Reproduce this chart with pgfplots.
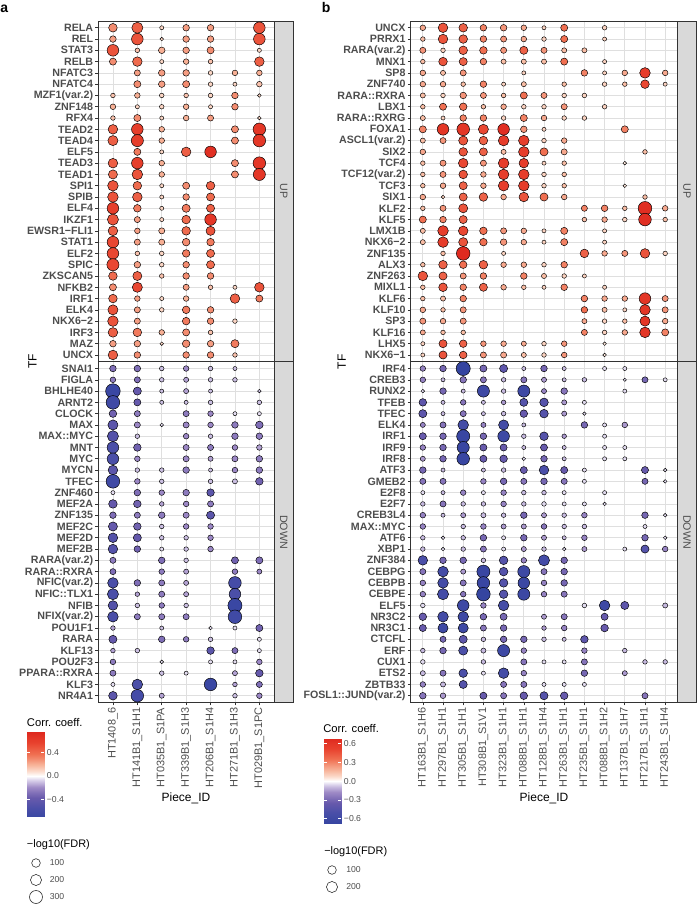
\documentclass[border=0pt]{standalone}
\usepackage{fontspec}
\setmainfont{Liberation Sans}
\usepackage{pgfplots}
\usepackage{pgfplotstable}
\pgfplotsset{compat=1.18}
\definecolor{labgray}{HTML}{4D4D4D}
\definecolor{dark}{HTML}{333333}
\pgfplotsset{colormap={corr}{rgb255(0cm)=(52,68,160); rgb255(2.5cm)=(72,78,168); rgb255(5cm)=(104,90,172); rgb255(7.5cm)=(158,138,198); rgb255(9cm)=(214,204,232); rgb255(10cm)=(255,255,255); rgb255(11cm)=(252,222,208); rgb255(12.5cm)=(247,178,152); rgb255(15cm)=(240,112,82); rgb255(17.5cm)=(232,66,46); rgb255(20cm)=(222,40,30)}}
\pgfplotsset{dotstyle/.style={only marks, scatter, mark=*, point meta=explicit, unbounded coords=discard, filter discard warning=false,
  scatter/use mapped color={draw=black, fill=mapped color}, mark options={line width=0.35pt}},
  panelstyle/.style={scale only axis, anchor=south west, height=511.125pt,
  ymin=0.4, ymax=60.8, y dir=reverse,
  ytick={1,2,3,4,5,6,7,8,9,10,11,12,13,14,15,16,17,18,19,20,21,22,23,24,25,26,27,28,29,30,31.2,32.2,33.2,34.2,35.2,36.2,37.2,38.2,39.2,40.2,41.2,42.2,43.2,44.2,45.2,46.2,47.2,48.2,49.2,50.2,51.2,52.2,53.2,54.2,55.2,56.2,57.2,58.2,59.2,60.2},
  tick pos=left, tick align=outside, major tick length=2.2pt,
  tick style={draw=dark, line width=0.45pt},
  grid=major, major grid style={draw=gray!25, line width=0.55pt},
  axis line style={draw=dark, line width=0.45pt},
  xticklabel style={rotate=90, anchor=east, font=\fontsize{8.2}{9}\selectfont, text=labgray, inner sep=1.5pt},
  yticklabel style={font=\bfseries\fontsize{8}{9}\selectfont, text=labgray, inner sep=1.5pt},
  colormap name=corr}}

\pgfplotstableread{
y c1 s1 c2 s2 c3 s3 c4 s4 c5 s5 c6 s6 c7 s7
1 0.30 100 0.45 201 0.10 6 0.25 44 0.25 44 nan nan 0.50 225
2 0.25 44 0.50 225 0.10 3 0.25 44 0.25 44 nan nan 0.50 225
3 0.50 225 0.15 11 0.20 44 0.25 44 0.30 56 nan nan 0.10 6
4 0.30 56 0.40 136 0.10 6 0.20 25 0.15 11 nan nan 0.45 136
5 nan nan 0.25 34 0.25 44 0.25 44 0.10 11 0.20 25 0.20 25
6 nan nan 0.30 56 0.25 44 0.30 56 0.10 11 0.10 6 0.15 25
7 0.15 11 0.20 25 0.10 11 0.15 11 0.10 11 0.30 44 0.10 3
8 0.20 25 0.10 6 0.10 11 0.20 25 0.10 6 0.30 44 nan nan
9 0.15 11 0.30 56 0.10 6 0.20 25 0.25 34 nan nan 0.10 3
10 0.45 136 0.60 225 0.20 25 nan nan nan nan 0.30 56 0.65 278
11 0.45 156 0.60 251 0.20 25 nan nan nan nan 0.30 56 0.65 278
12 nan nan 0.35 56 0.10 6 0.45 136 0.70 225 nan nan nan nan
13 0.45 136 0.60 225 0.20 25 nan nan nan nan 0.30 56 0.65 278
14 0.40 117 0.50 178 0.20 25 nan nan nan nan 0.30 56 0.65 251
15 0.50 178 0.40 100 0.10 6 0.30 56 0.45 100 nan nan nan nan
16 0.50 178 0.45 136 0.10 6 0.30 44 0.40 84 nan nan nan nan
17 0.60 225 0.35 69 0.10 6 0.35 84 0.45 84 nan nan nan nan
18 0.50 201 0.25 34 0.10 6 0.40 100 0.65 225 nan nan nan nan
19 0.45 136 0.25 25 0.20 34 0.40 100 0.50 117 nan nan nan nan
20 0.55 225 0.25 34 0.20 34 0.30 69 0.35 69 nan nan nan nan
21 0.55 225 0.15 11 0.10 11 0.35 69 0.40 84 nan nan nan nan
22 0.55 251 0.25 44 0.10 11 0.30 44 0.40 84 nan nan nan nan
23 0.40 100 0.45 117 0.15 11 0.30 44 0.30 44 nan nan nan nan
24 0.30 56 0.55 156 nan nan 0.25 34 0.15 11 0.10 6 0.50 136
25 0.40 100 0.25 25 0.10 6 0.20 25 nan nan 0.45 136 0.35 56
26 0.50 156 0.25 34 0.10 11 0.35 69 0.30 44 nan nan nan nan
27 0.50 178 0.25 34 nan nan 0.35 69 0.30 44 0.10 11 nan nan
28 0.45 136 0.35 100 0.20 25 0.30 56 0.15 11 nan nan nan nan
29 0.25 44 0.25 44 0.10 3 0.30 69 0.25 44 0.35 84 nan nan
30 0.45 136 0.30 44 nan nan 0.30 44 0.30 44 0.15 11 nan nan
31.2 -0.30 44 -0.30 44 -0.10 11 -0.20 25 -0.10 11 -0.10 6 nan nan
32.2 -0.25 25 -0.30 34 -0.10 11 -0.15 17 -0.10 11 -0.10 11 nan nan
33.2 -0.70 400 -0.40 84 -0.10 6 -0.15 17 -0.10 6 nan nan -0.10 3
34.2 -0.65 336 -0.40 56 -0.10 6 -0.10 6 -0.10 11 nan nan -0.10 11
35.2 -0.35 69 -0.25 34 nan nan -0.25 34 -0.20 25 -0.05 6 -0.05 6
36.2 -0.45 156 -0.20 34 -0.05 3 -0.20 34 -0.20 25 -0.25 44 -0.30 69
37.2 -0.50 201 -0.10 11 nan nan -0.20 25 -0.10 11 -0.25 44 -0.25 44
38.2 -0.55 225 -0.35 69 nan nan -0.20 34 -0.25 34 -0.20 25 -0.15 25
39.2 -0.55 225 -0.20 25 nan nan -0.20 34 -0.15 17 -0.20 34 -0.25 44
40.2 -0.45 136 -0.10 11 -0.10 11 -0.25 44 -0.10 6 -0.20 25 -0.25 44
41.2 -0.65 336 -0.20 25 -0.10 11 nan nan -0.10 11 -0.10 17 -0.35 69
42.2 -0.05 6 -0.30 44 -0.20 25 -0.25 44 -0.45 69 nan nan nan nan
43.2 -0.40 100 -0.35 69 -0.15 11 -0.20 25 -0.25 34 nan nan nan nan
44.2 -0.30 44 -0.25 34 -0.25 44 -0.20 34 -0.45 84 nan nan nan nan
45.2 -0.40 117 -0.35 69 -0.10 11 -0.20 25 -0.20 25 nan nan nan nan
46.2 -0.50 136 -0.40 84 -0.10 11 -0.10 11 -0.20 25 nan nan nan nan
47.2 -0.50 136 -0.35 44 -0.05 6 -0.10 11 -0.20 25 nan nan nan nan
48.2 -0.25 34 nan nan -0.30 44 -0.10 11 nan nan -0.35 56 -0.30 56
49.2 -0.30 34 nan nan -0.25 25 -0.15 17 nan nan -0.25 25 -0.20 17
50.2 -0.55 178 -0.30 44 -0.25 34 -0.15 17 nan nan -0.60 278 nan nan
51.2 -0.55 201 -0.15 11 -0.25 34 -0.15 17 nan nan -0.55 225 nan nan
52.2 -0.50 136 -0.10 11 -0.25 25 -0.10 11 nan nan -0.70 367 nan nan
53.2 -0.55 178 -0.25 34 -0.25 34 -0.25 34 nan nan -0.65 336 nan nan
54.2 -0.15 11 nan nan -0.10 6 nan nan -0.05 3 -0.05 6 -0.35 56
55.2 -0.40 84 nan nan -0.30 44 -0.25 25 -0.10 11 nan nan -0.05 6
56.2 -0.15 11 -0.10 11 nan nan nan nan -0.45 69 -0.30 34 -0.05 6
57.2 -0.25 25 nan nan -0.05 3 nan nan -0.05 6 -0.05 6 -0.20 25
58.2 -0.25 34 nan nan -0.10 11 -0.05 6 nan nan -0.15 17 -0.40 69
59.2 -0.05 6 -0.55 178 nan nan nan nan -0.70 278 -0.15 11 -0.30 34
60.2 -0.45 100 -0.60 278 -0.15 17 nan nan nan nan -0.10 11 -0.20 25
}\tabA

\pgfplotstableread{
y c1 s1 c2 s2 c3 s3 c4 s4 c5 s5 c6 s6 c7 s7 c8 s8 c9 s9 c10 s10 c11 s11 c12 s12 c13 s13
1 0.20 25 0.45 136 0.40 100 0.30 44 0.25 44 0.20 25 0.10 6 0.35 56 nan nan 0.10 11 nan nan nan nan nan nan
2 0.15 11 0.45 136 0.40 100 0.30 44 0.25 34 0.20 25 0.10 11 0.35 56 nan nan 0.10 6 nan nan nan nan nan nan
3 0.25 34 0.10 11 0.40 100 0.35 69 0.25 34 0.40 84 0.25 34 0.15 17 0.15 17 nan nan nan nan nan nan nan nan
4 0.15 11 0.45 100 0.40 84 0.30 44 0.15 17 0.15 17 0.15 17 0.35 56 nan nan 0.10 6 nan nan nan nan nan nan
5 0.20 25 0.15 17 0.25 34 nan nan nan nan 0.10 6 nan nan nan nan 0.30 44 0.10 6 0.20 25 0.55 178 0.20 25
6 0.20 25 0.20 25 0.15 11 0.30 44 0.10 6 0.15 17 nan nan 0.15 11 nan nan 0.10 11 0.15 11 0.50 100 0.10 6
7 0.15 17 0.10 11 0.25 44 0.25 34 0.15 11 0.35 56 0.25 34 0.10 11 0.10 11 nan nan nan nan nan nan nan nan
8 0.15 11 0.35 56 0.35 69 0.15 11 0.20 25 0.10 11 0.10 11 0.25 34 nan nan 0.10 11 nan nan nan nan nan nan
9 0.15 17 0.10 6 0.30 44 0.30 44 0.10 11 0.30 56 0.20 25 0.10 11 0.10 11 nan nan nan nan nan nan nan nan
10 0.30 56 0.60 225 0.60 278 0.50 156 0.65 225 0.25 44 0.10 6 nan nan nan nan nan nan 0.30 56 nan nan nan nan
11 0.15 17 0.25 34 0.45 117 0.40 100 0.55 178 0.55 178 0.10 11 0.20 25 nan nan nan nan nan nan nan nan nan nan
12 0.20 25 nan nan 0.45 100 0.40 84 0.15 17 0.55 178 0.35 84 0.20 34 nan nan nan nan nan nan 0.15 11 nan nan
13 0.15 11 0.25 34 0.50 136 0.25 34 0.55 178 0.55 136 0.10 6 0.15 11 nan nan nan nan 0.05 3 nan nan nan nan
14 0.15 11 0.25 34 0.45 100 0.20 25 0.55 178 0.55 178 0.10 11 0.15 11 nan nan nan nan nan nan nan nan nan nan
15 0.15 11 0.20 25 0.40 84 0.20 25 0.55 178 0.55 178 0.10 11 0.15 11 nan nan nan nan 0.05 3 nan nan nan nan
16 0.20 25 0.10 3 0.40 84 0.40 100 0.20 25 0.45 136 0.35 84 0.20 25 nan nan nan nan nan nan 0.15 11 nan nan
17 0.15 11 0.25 34 0.45 117 nan nan nan nan nan nan nan nan nan nan 0.30 34 0.30 44 0.15 11 0.65 336 0.20 25
18 0.35 56 0.30 44 0.40 84 nan nan nan nan nan nan nan nan nan nan 0.15 11 0.20 25 0.10 11 0.65 278 0.15 11
19 0.15 17 0.55 178 0.50 136 0.35 69 0.25 34 0.20 25 0.10 6 0.30 56 nan nan 0.10 6 nan nan nan nan nan nan
20 0.15 17 0.55 178 0.45 117 0.35 69 0.25 44 0.20 25 0.10 6 0.30 56 nan nan 0.10 6 nan nan nan nan nan nan
21 nan nan 0.15 11 0.68 336 nan nan 0.10 6 nan nan nan nan nan nan 0.40 100 0.20 25 0.25 34 0.45 136 0.10 11
22 0.15 11 0.40 100 0.35 69 0.40 100 0.20 25 0.20 25 0.10 11 0.30 44 nan nan nan nan nan nan nan nan nan nan
23 0.45 136 0.40 84 0.25 34 0.30 44 nan nan 0.30 44 0.15 17 0.10 11 0.10 6 nan nan nan nan nan nan nan nan
24 0.15 11 0.45 100 0.30 44 0.40 84 0.20 25 0.15 11 0.10 6 0.30 44 nan nan 0.10 6 nan nan nan nan nan nan
25 0.15 11 0.15 17 0.30 44 nan nan nan nan nan nan nan nan nan nan 0.30 44 0.20 25 0.20 25 0.60 225 0.25 34
26 0.20 25 0.15 11 0.25 34 nan nan nan nan nan nan nan nan nan nan 0.35 44 0.15 17 0.10 6 0.60 178 0.25 34
27 0.25 34 0.20 25 0.25 34 nan nan nan nan nan nan nan nan nan nan 0.20 17 0.10 11 0.15 11 0.60 156 0.20 25
28 0.20 17 0.15 11 0.15 11 nan nan nan nan nan nan nan nan nan nan 0.30 34 0.10 11 0.20 25 0.60 178 0.30 56
29 0.10 6 0.45 84 0.40 69 0.25 25 0.20 25 0.20 17 0.10 11 0.25 25 nan nan 0.05 3 nan nan nan nan nan nan
30 0.10 6 0.45 84 0.40 69 0.25 34 0.20 34 0.15 17 0.10 11 0.25 25 nan nan 0.05 3 nan nan nan nan nan nan
31.2 -0.20 25 -0.30 44 -0.70 367 -0.30 56 -0.40 84 -0.10 6 -0.30 44 -0.10 6 nan nan -0.05 6 -0.05 6 nan nan nan nan
32.2 -0.20 25 -0.10 6 -0.25 44 -0.25 34 -0.10 11 -0.25 34 -0.15 17 -0.10 6 -0.10 11 nan nan -0.05 1 -0.30 34 -0.05 6
33.2 -0.05 3 -0.30 44 -0.10 6 -0.60 251 -0.10 11 -0.60 251 -0.20 17 -0.25 44 nan nan nan nan -0.05 6 nan nan nan nan
34.2 -0.40 69 -0.10 6 -0.25 25 -0.10 6 -0.15 11 -0.45 84 -0.45 100 -0.15 17 -0.05 6 nan nan nan nan nan nan nan nan
35.2 -0.40 84 -0.10 6 -0.25 34 -0.10 6 -0.10 11 -0.35 69 -0.45 100 -0.15 17 -0.05 3 nan nan nan nan nan nan nan nan
36.2 -0.20 17 -0.25 34 -0.55 178 -0.20 17 -0.55 156 -0.10 6 nan nan nan nan -0.30 44 -0.05 6 -0.15 25 nan nan nan nan
37.2 -0.35 56 -0.30 44 -0.65 306 -0.30 44 -0.60 225 -0.10 11 -0.45 100 -0.15 11 nan nan -0.05 6 nan nan nan nan nan nan
38.2 -0.20 25 -0.30 44 -0.65 251 -0.35 56 -0.35 56 -0.10 6 -0.35 56 -0.10 6 nan nan -0.05 6 -0.05 6 nan nan nan nan
39.2 -0.15 17 -0.30 44 -0.65 278 -0.35 56 -0.35 69 -0.05 3 -0.30 44 -0.10 6 nan nan -0.05 6 -0.05 6 nan nan nan nan
40.2 -0.30 44 -0.10 6 nan nan -0.10 6 -0.10 11 -0.35 56 -0.50 136 -0.35 56 -0.05 6 nan nan nan nan -0.35 56 -0.05 3
41.2 -0.25 34 -0.25 34 nan nan -0.20 25 -0.30 44 -0.25 34 -0.30 44 -0.25 34 -0.05 6 nan nan nan nan -0.30 34 -0.05 3
42.2 -0.05 6 -0.10 6 -0.20 25 -0.05 6 -0.20 25 -0.10 11 -0.10 11 -0.05 6 nan nan -0.05 6 nan nan nan nan nan nan
43.2 -0.10 11 -0.25 34 -0.10 11 -0.10 11 -0.20 25 -0.10 11 -0.05 11 -0.05 6 -0.05 6 -0.05 3 nan nan nan nan nan nan
44.2 -0.20 25 -0.10 6 -0.15 17 -0.10 17 -0.10 11 -0.30 44 -0.15 17 -0.10 11 -0.20 25 nan nan nan nan -0.30 44 -0.05 3
45.2 -0.20 25 nan nan -0.10 11 -0.20 25 -0.15 17 -0.15 17 -0.25 25 -0.10 11 -0.10 11 nan nan nan nan -0.05 6 nan nan
46.2 -0.10 11 -0.05 3 -0.10 11 -0.30 44 -0.05 6 -0.30 44 -0.15 17 -0.10 6 -0.20 25 nan nan nan nan -0.30 44 -0.05 3
47.2 -0.10 11 -0.05 3 -0.10 11 -0.25 34 -0.05 6 -0.15 17 -0.10 11 -0.05 3 -0.15 17 nan nan -0.05 6 -0.45 84 -0.20 25
48.2 -0.50 136 -0.30 44 -0.30 44 -0.10 11 -0.45 100 -0.20 25 -0.55 201 -0.30 44 nan nan nan nan nan nan nan nan nan nan
49.2 -0.25 34 -0.55 178 -0.15 17 -0.65 306 -0.45 100 -0.60 251 -0.25 34 -0.30 44 nan nan nan nan nan nan nan nan nan nan
50.2 -0.20 25 -0.55 178 -0.25 34 -0.65 278 -0.45 100 -0.62 225 -0.20 25 -0.30 44 nan nan nan nan nan nan nan nan nan nan
51.2 -0.20 25 -0.55 201 -0.25 25 -0.68 336 -0.45 100 -0.62 251 -0.20 25 -0.25 34 nan nan nan nan nan nan nan nan nan nan
52.2 -0.05 11 nan nan -0.60 225 -0.20 25 -0.55 178 nan nan nan nan nan nan -0.05 11 -0.60 178 -0.40 84 nan nan -0.10 17
53.2 -0.35 69 -0.55 178 -0.60 178 -0.30 44 -0.30 56 nan nan -0.15 17 -0.25 34 nan nan -0.35 56 nan nan nan nan nan nan
54.2 -0.35 56 -0.60 156 -0.60 156 -0.25 34 -0.30 44 nan nan -0.15 11 -0.20 25 nan nan -0.35 69 nan nan nan nan nan nan
55.2 nan nan -0.30 34 -0.40 84 -0.10 11 -0.30 44 -0.30 44 -0.10 11 -0.10 6 -0.40 69 nan nan nan nan nan nan nan nan
56.2 -0.10 11 -0.30 44 -0.50 117 -0.10 17 -0.60 251 -0.20 25 nan nan nan nan -0.20 25 nan nan -0.10 11 nan nan nan nan
57.2 -0.05 11 nan nan nan nan -0.10 11 nan nan -0.25 34 -0.05 6 -0.05 6 -0.25 34 nan nan nan nan -0.10 11 -0.10 11
58.2 -0.10 17 -0.25 34 -0.50 100 -0.05 6 -0.55 178 -0.20 25 nan nan nan nan -0.30 44 nan nan -0.15 17 nan nan nan nan
59.2 -0.20 25 -0.10 17 -0.45 84 nan nan -0.25 34 -0.25 34 -0.05 6 -0.05 6 -0.05 6 nan nan nan nan nan nan nan nan
60.2 -0.25 44 -0.15 25 nan nan -0.35 56 -0.25 34 -0.35 69 -0.45 84 -0.35 69 nan nan nan nan nan nan -0.25 34 nan nan
}\tabB

\begin{document}
\begin{tikzpicture}
\useasboundingbox (0,0) rectangle (522.75pt,678.75pt);

% ---------- panel a ----------
\begin{axis}[panelstyle, at={(73.725pt,151.875pt)}, width=131.775pt,
  xmin=0.4, xmax=7.6, xtick={1,2,3,4,5,6,7},
  xticklabels={HT1408\_6,HT141B1\_S1H1,HT035B1\_S1PA,HT339B1\_S1H3,HT206B1\_S1H4,HT271B1\_S1H3,HT029B1\_S1PC},
  yticklabels={RELA,REL,STAT3,RELB,NFATC3,NFATC4,MZF1(var.2),ZNF148,RFX4,TEAD2,TEAD4,ELF5,TEAD3,TEAD1,SPI1,SPIB,ELF4,IKZF1,EWSR1−FLI1,STAT1,ELF2,SPIC,ZKSCAN5,NFKB2,IRF1,ELK4,NKX6−2,IRF3,MAZ,UNCX,SNAI1,FIGLA,BHLHE40,ARNT2,CLOCK,MAX,MAX::MYC,MNT,MYC,MYCN,TFEC,ZNF460,MEF2A,ZNF135,MEF2C,MEF2D,MEF2B,RARA(var.2),RARA::RXRA,NFIC(var.2),NFIC::TLX1,NFIB,NFIX(var.2),POU1F1,RARA,KLF13,POU2F3,PPARA::RXRA,KLF3,NR4A1},
  point meta min=-0.76, point meta max=0.76]
\pgfplotsinvokeforeach{1,...,7}{
  \addplot[dotstyle, visualization depends on={\thisrow{s#1} \as \fdr},
    scatter/@pre marker code/.append style={/tikz/mark size={0.375*(3+0.6*sqrt(\fdr))-0.15}}]
    table[x expr={#1+\thisrow{c#1}-\thisrow{c#1}}, y=y, meta=c#1] \tabA;
}
\end{axis}

% ---------- panel b ----------
\begin{axis}[panelstyle, at={(308.025pt,151.875pt)}, width=199.95pt,
  xmin=0.4, xmax=13.6, xtick={1,2,3,4,5,6,7,8,9,10,11,12,13},
  xticklabels={HT163B1\_S1H6,HT297B1\_S1H1,HT305B1\_S1H1,HT308B1\_S1V1,HT323B1\_S1H1,HT088B1\_S1H1,HT128B1\_S1H4,HT263B1\_S1H1,HT235B1\_S1H1,HT088B1\_S1H2,HT137B1\_S1H7,HT217B1\_S1H1,HT243B1\_S1H4},
  yticklabels={UNCX,PRRX1,RARA(var.2),MNX1,SP8,ZNF740,RARA::RXRA,LBX1,RARA::RXRG,FOXA1,ASCL1(var.2),SIX2,TCF4,TCF12(var.2),TCF3,SIX1,KLF2,KLF5,LMX1B,NKX6−2,ZNF135,ALX3,ZNF263,MIXL1,KLF6,KLF10,SP3,KLF16,LHX5,NKX6−1,IRF4,CREB3,RUNX2,TFEB,TFEC,ELK4,IRF1,IRF9,IRF8,ATF3,GMEB2,E2F8,E2F7,CREB3L4,MAX::MYC,ATF6,XBP1,ZNF384,CEBPG,CEBPB,CEBPE,ELF5,NR3C2,NR3C1,CTCFL,ERF,CUX1,ETS2,ZBTB33,FOSL1::JUND(var.2)},
  point meta min=-0.69, point meta max=0.69]
\pgfplotsinvokeforeach{1,...,13}{
  \addplot[dotstyle, visualization depends on={\thisrow{s#1} \as \fdr},
    scatter/@pre marker code/.append style={/tikz/mark size={0.375*(3+0.6*sqrt(\fdr))-0.15}}]
    table[x expr={#1+\thisrow{c#1}-\thisrow{c#1}}, y=y, meta=c#1] \tabB;
}
\end{axis}

% ---------- colorbars ----------
\begin{axis}[at={(20.25pt,66pt)}, anchor=south west, scale only axis, width=12.75pt, height=63.75pt,
  xmin=0, xmax=1, ymin=-0.71, ymax=0.76, colormap name=corr, point meta min=-0.76, point meta max=0.76,
  axis line style={draw=none}, xtick=\empty, ytick={-0.4,0,0.4}, yticklabels={−0.4,0.0,0.4},
  ytick pos=both, yticklabel pos=right, tick align=inside, major tick length=2.6pt,
  ytick style={draw=white, line width=0.5pt}, axis on top,
  yticklabel style={font=\fontsize{6.5}{7}\selectfont, text=labgray, inner sep=2pt}]
\addplot[surf, shader=interp, point meta=y, mesh/cols=2] coordinates {
(0,-0.71) (1,-0.71) (0,-0.6) (1,-0.6) (0,-0.5) (1,-0.5) (0,-0.4) (1,-0.4) (0,-0.3) (1,-0.3) (0,-0.2) (1,-0.2) (0,-0.1) (1,-0.1) (0,0) (1,0) (0,0.1) (1,0.1) (0,0.2) (1,0.2) (0,0.3) (1,0.3) (0,0.4) (1,0.4) (0,0.5) (1,0.5) (0,0.6) (1,0.6) (0,0.7) (1,0.7) (0,0.76) (1,0.76)};
\end{axis}
\begin{axis}[at={(243pt,60.75pt)}, anchor=south west, scale only axis, width=12.75pt, height=63.75pt,
  xmin=0, xmax=1, ymin=-0.685, ymax=0.67, colormap name=corr, point meta min=-0.69, point meta max=0.69,
  axis line style={draw=none}, xtick=\empty, ytick={-0.6,-0.3,0,0.3,0.6}, yticklabels={−0.6,−0.3,0.0,0.3,0.6},
  ytick pos=both, yticklabel pos=right, tick align=inside, major tick length=2.6pt,
  ytick style={draw=white, line width=0.5pt}, axis on top,
  yticklabel style={font=\fontsize{6.5}{7}\selectfont, text=labgray, inner sep=2pt}]
\addplot[surf, shader=interp, point meta=y, mesh/cols=2] coordinates {
(0,-0.685) (1,-0.685) (0,-0.6) (1,-0.6) (0,-0.5) (1,-0.5) (0,-0.4) (1,-0.4) (0,-0.3) (1,-0.3) (0,-0.2) (1,-0.2) (0,-0.1) (1,-0.1) (0,0) (1,0) (0,0.1) (1,0.1) (0,0.2) (1,0.2) (0,0.3) (1,0.3) (0,0.4) (1,0.4) (0,0.5) (1,0.5) (0,0.6) (1,0.6) (0,0.67) (1,0.67)};
\end{axis}

% ---------- size legends ----------
\begin{axis}[at={(19.5pt,0pt)}, anchor=south west, scale only axis, width=15pt, height=37.5pt,
  xmin=0, xmax=20, ymin=0, ymax=50, hide axis, clip=false]
\addplot[only marks, scatter, mark=*, point meta=y, scatter/use mapped color={draw=dark, fill=white},
  mark options={line width=0.45pt}, visualization depends on={\thisrow{s} \as \fdr},
  scatter/@pre marker code/.append style={/tikz/mark size={0.375*(3+0.6*sqrt(\fdr))-0.15}}]
  table[row sep=\\] {x y s\\ 10 42 100\\ 10 25 200\\ 10 8 300\\};
\end{axis}
\begin{axis}[at={(241.5pt,0pt)}, anchor=south west, scale only axis, width=15pt, height=37.5pt,
  xmin=0, xmax=20, ymin=0, ymax=50, hide axis, clip=false]
\addplot[only marks, scatter, mark=*, point meta=y, scatter/use mapped color={draw=dark, fill=white},
  mark options={line width=0.45pt}, visualization depends on={\thisrow{s} \as \fdr},
  scatter/@pre marker code/.append style={/tikz/mark size={0.375*(3+0.6*sqrt(\fdr))-0.15}}]
  table[row sep=\\] {x y s\\ 10 35 100\\ 10 18 200\\};
\end{axis}

% ---------- overlays and texts in image pixel coordinates ----------
\begin{scope}[shift={(0pt,678.75pt)}, x=0.75pt, y=-0.75pt]
  \draw[draw=dark, fill=gray!30, line width=0.45pt] (274,21) rectangle (293.3,361.75);
  \draw[draw=dark, fill=gray!30, line width=0.45pt] (274,361.75) rectangle (293.3,702.5);
  \draw[draw=dark, fill=gray!30, line width=0.45pt] (677.3,21) rectangle (696.6,361.75);
  \draw[draw=dark, fill=gray!30, line width=0.45pt] (677.3,361.75) rectangle (696.6,702.5);
  \draw[dark, line width=0.6pt] (98.3,361.75) -- (293.3,361.75);
  \draw[dark, line width=0.6pt] (410.7,361.75) -- (696.6,361.75);
  \node[rotate=-90, font=\fontsize{8}{9}\selectfont, text=labgray] at (283.7,191.4) {UP};
  \node[rotate=-90, font=\fontsize{8}{9}\selectfont, text=labgray] at (283.7,532.1) {DOWN};
  \node[rotate=-90, font=\fontsize{8}{9}\selectfont, text=labgray] at (687,191.4) {UP};
  \node[rotate=-90, font=\fontsize{8}{9}\selectfont, text=labgray] at (687,532.1) {DOWN};
  \node[anchor=base west, inner sep=0, font=\bfseries\fontsize{10.5}{12}\selectfont] at (0,12.5) {a};
  \node[anchor=base west, inner sep=0, font=\bfseries\fontsize{10.5}{12}\selectfont] at (321.5,12.5) {b};
  \node[rotate=90, font=\fontsize{9}{10}\selectfont] at (32.5,361.5) {TF};
  \node[rotate=90, font=\fontsize{9}{10}\selectfont] at (341.7,362) {TF};
  \node[font=\fontsize{9}{10}\selectfont] at (186,798) {Piece\_ID};
  \node[font=\fontsize{9}{10}\selectfont] at (544,798) {Piece\_ID};
  \node[anchor=west, inner sep=0, font=\fontsize{8.4}{9}\selectfont] at (26.7,723) {Corr. coeff.};
  \node[anchor=west, inner sep=0, font=\fontsize{8.4}{9}\selectfont] at (323,729) {Corr. coeff.};
  \node[anchor=west, inner sep=0, font=\fontsize{8.2}{9}\selectfont] at (26.7,845) {−log10(FDR)};
  \node[anchor=west, inner sep=0, font=\fontsize{8.2}{9}\selectfont] at (324,852) {−log10(FDR)};
  \node[anchor=west, inner sep=0, font=\fontsize{6.5}{7}\selectfont, text=labgray] at (49.5,863) {100};
  \node[anchor=west, inner sep=0, font=\fontsize{6.5}{7}\selectfont, text=labgray] at (49.5,880) {200};
  \node[anchor=west, inner sep=0, font=\fontsize{6.5}{7}\selectfont, text=labgray] at (49.5,897) {300};
  \node[anchor=west, inner sep=0, font=\fontsize{6.5}{7}\selectfont, text=labgray] at (346,870) {100};
  \node[anchor=west, inner sep=0, font=\fontsize{6.5}{7}\selectfont, text=labgray] at (346,887) {200};
\end{scope}
\end{tikzpicture}
\end{document}
